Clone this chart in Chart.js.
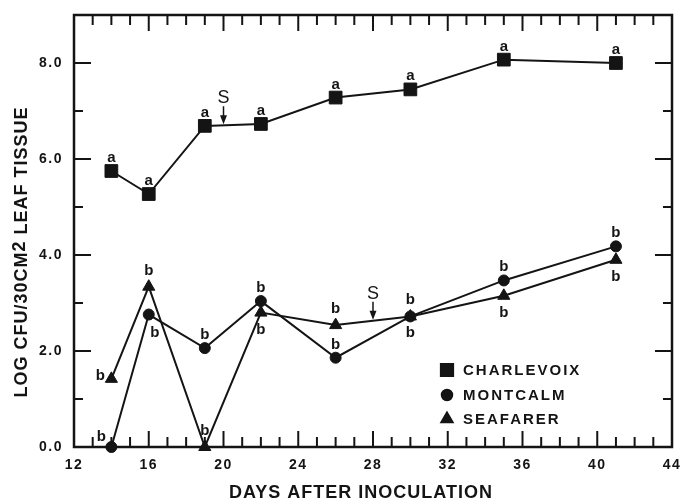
<!DOCTYPE html>
<html>
<head>
<meta charset="utf-8">
<script src="https://cdn.jsdelivr.net/npm/chart.js@4.4.0/dist/chart.umd.min.js"></script>
<style>
  html, body { margin: 0; padding: 0; background: #fff; }
  #wrap { width: 682px; height: 501px; }
</style>
</head>
<body>
<div id="wrap"><canvas id="chart"></canvas></div>
<script>
// Sampling days and log CFU values
const days = [14, 16, 19, 22, 26, 30, 35, 41];
const charlevoix = [5.75, 5.27, 6.69, 6.73, 7.28, 7.45, 8.07, 8.0];
const montcalm = [0.0, 2.76, 2.06, 3.04, 1.86, 2.72, 3.47, 4.18];
const seafarer = [1.42, 3.34, 0.0, 2.80, 2.54, 2.72, 3.15, 3.90];
const seriesNames = ['CHARLEVOIX', 'MONTCALM', 'SEAFARER'];

// significance letters for each point
const charlevoixLetters = ['a', 'a', 'a', 'a', 'a', 'a', 'a', 'a'];
const montcalmLetters = ['b', 'b', 'b', 'b', 'b', 'b', 'b', 'b'];
const seafarerLetters = ['b', 'b', 'b', 'b', 'b', 'b', 'b', 'b'];

// "S" arrows: day and the series the arrow points at
const sprayDays = [20, 28];
const spraySeries = [0, 2];

const xTickValues = [12, 16, 20, 24, 28, 32, 36, 40, 44];
const yTickValues = [0, 2, 4, 6, 8];

// where each letter sits relative to its marker
const letterPlacement = [
    ['up', 'up', 'up', 'up', 'up', 'up', 'up', 'up'],
    ['upleft', 'downright', 'up', 'up', 'up', 'down', 'up', 'up'],
    ['left', 'upTri', 'upTri', 'down', 'upTri', 'upTri', 'down', 'down']
];

const ink = '#141414';
const fontFamily = "'Liberation Sans', Arial, Helvetica, sans-serif";

function toPoints(values) {
    return days.map((d, i) => ({ x: d, y: values[i] }));
}

function makeDataset(label, values, style, radius) {
    return {
        label: label,
        data: toPoints(values),
        borderColor: ink,
        borderWidth: 2,
        backgroundColor: ink,
        pointStyle: style,
        pointRadius: radius,
        pointBackgroundColor: ink,
        pointBorderColor: ink,
        pointBorderWidth: 1,
        tension: 0,
        clip: false
    };
}

// frame with inward ticks on all four sides
const plotFrame = {
    id: 'plotFrame',
    beforeDraw(chart) {
        chart.ctx.letterSpacing = '1.5px';
    },
    beforeDatasetsDraw(chart) {
        const { ctx, chartArea: a, scales: { x, y } } = chart;
        ctx.save();
        ctx.strokeStyle = ink;
        ctx.lineWidth = 2.5;
        ctx.strokeRect(a.left, a.top, a.right - a.left, a.bottom - a.top);
        ctx.lineWidth = 2;
        ctx.beginPath();
        for (let d = x.min + 1; d < x.max; d++) {
            const px = x.getPixelForValue(d);
            const len = d % 4 === 0 ? 16 : 10;
            ctx.moveTo(px, a.bottom);
            ctx.lineTo(px, a.bottom - len);
            ctx.moveTo(px, a.top);
            ctx.lineTo(px, a.top + len);
        }
        for (let v = y.min + 1; v < y.max; v++) {
            const py = y.getPixelForValue(v);
            const len = v % 2 === 0 ? 17 : 9;
            ctx.moveTo(a.left, py);
            ctx.lineTo(a.left + len, py);
            ctx.moveTo(a.right, py);
            ctx.lineTo(a.right - len, py);
        }
        ctx.stroke();
        ctx.restore();
    }
};

// letters, S arrows, legend and axis titles
const annotations = {
    id: 'annotations',
    afterDatasetsDraw(chart) {
        const ctx = chart.ctx;
        const letters = [charlevoixLetters, montcalmLetters, seafarerLetters];
        ctx.save();
        ctx.fillStyle = ink;
        ctx.strokeStyle = ink;
        ctx.letterSpacing = '0px';

        // significance letters
        ctx.font = 'bold 15px ' + fontFamily;
        ctx.textAlign = 'center';
        ctx.textBaseline = 'alphabetic';
        letters.forEach((list, s) => {
            const meta = chart.getDatasetMeta(s);
            list.forEach((txt, i) => {
                const p = meta.data[i];
                let dx = 0, dy = -9;
                switch (letterPlacement[s][i]) {
                    case 'upTri': dy = -12; break;
                    case 'down': dy = 21; break;
                    case 'downright': dx = 6; dy = 22; break;
                    case 'left': dx = -11; dy = 1; break;
                    case 'upleft': dx = -10; dy = -6; break;
                }
                ctx.fillText(txt, p.x + dx, p.y + dy);
            });
        });

        // S arrows
        ctx.font = '18px ' + fontFamily;
        ctx.lineWidth = 1.5;
        sprayDays.forEach((day, k) => {
            const pts = chart.getDatasetMeta(spraySeries[k]).data;
            const px = chart.scales.x.getPixelForValue(day);
            let tipY = pts[0].y;
            for (let i = 0; i < pts.length - 1; i++) {
                if (px >= pts[i].x && px <= pts[i + 1].x) {
                    const t = (px - pts[i].x) / (pts[i + 1].x - pts[i].x);
                    tipY = pts[i].y + t * (pts[i + 1].y - pts[i].y);
                }
            }
            tipY -= 1;
            ctx.fillText('S', px, tipY - 21);
            ctx.beginPath();
            ctx.moveTo(px, tipY - 18);
            ctx.lineTo(px, tipY - 6);
            ctx.stroke();
            ctx.beginPath();
            ctx.moveTo(px - 3.5, tipY - 9);
            ctx.lineTo(px + 3.5, tipY - 9);
            ctx.lineTo(px, tipY);
            ctx.closePath();
            ctx.fill();
        });

        // legend inside plot
        const legendY = [370, 395, 419];
        ctx.textAlign = 'left';
        ctx.textBaseline = 'middle';
        ctx.font = 'bold 15px ' + fontFamily;
        ctx.letterSpacing = '2px';
        seriesNames.forEach((name, s) => {
            const ds = chart.data.datasets[s];
            Chart.helpers.drawPoint(ctx, {
                pointStyle: ds.pointStyle, radius: ds.pointRadius, rotation: 0, borderWidth: 1
            }, 447, legendY[s]);
            ctx.fill();
            ctx.fillText(name, 463, legendY[s] + 1);
        });

        // axis titles
        ctx.font = 'bold 18px ' + fontFamily;
        ctx.letterSpacing = '1px';
        ctx.textAlign = 'center';
        ctx.textBaseline = 'alphabetic';
        ctx.fillText('DAYS AFTER INOCULATION', 361, 498);

        ctx.save();
        ctx.translate(27, 252);
        ctx.rotate(-Math.PI / 2);
        const partA = 'LOG CFU/30CM', partB = '2', partC = ' LEAF TISSUE';
        const wA = ctx.measureText(partA).width;
        const wB = ctx.measureText(partB).width;
        const wC = ctx.measureText(partC).width;
        let cx = -(wA + wB + wC) / 2;
        ctx.textAlign = 'left';
        ctx.fillText(partA, cx, 0);
        ctx.fillText(partB, cx + wA, -2);
        ctx.fillText(partC, cx + wA + wB, 0);
        ctx.restore();

        ctx.restore();
    }
};

const tickFont = { family: fontFamily, size: 14, weight: 'bold' };

new Chart(document.getElementById('chart'), {
    type: 'line',
    data: {
        datasets: [
            makeDataset(seriesNames[0], charlevoix, 'rect', 9),
            makeDataset(seriesNames[1], montcalm, 'circle', 5.5),
            makeDataset(seriesNames[2], seafarer, 'triangle', 7)
        ]
    },
    options: {
        responsive: true,
        maintainAspectRatio: false,
        animation: false,
        layout: { padding: { top: 15, right: 8, left: 0, bottom: 0 } },
        plugins: {
            legend: { display: false },
            tooltip: { enabled: false }
        },
        scales: {
            x: {
                type: 'linear',
                min: 12,
                max: 44,
                grid: { display: false },
                border: { display: false },
                afterBuildTicks: scale => { scale.ticks = xTickValues.map(v => ({ value: v })); },
                afterFit: scale => {
                    scale.height = 54;
                    scale.paddingLeft = 0;
                    scale.paddingRight = 0;
                },
                ticks: { padding: 2, color: ink, font: tickFont, maxRotation: 0, autoSkip: false }
            },
            y: {
                type: 'linear',
                min: 0,
                max: 9,
                grid: { display: false },
                border: { display: false },
                afterBuildTicks: scale => { scale.ticks = yTickValues.map(v => ({ value: v })); },
                afterFit: scale => {
                    scale.width = 74;
                    scale.paddingTop = 0;
                    scale.paddingBottom = 0;
                },
                ticks: {
                    padding: 3,
                    color: ink,
                    font: tickFont,
                    callback: v => Number(v).toFixed(1)
                }
            }
        }
    },
    plugins: [plotFrame, annotations]
});
</script>
</body>
</html>
